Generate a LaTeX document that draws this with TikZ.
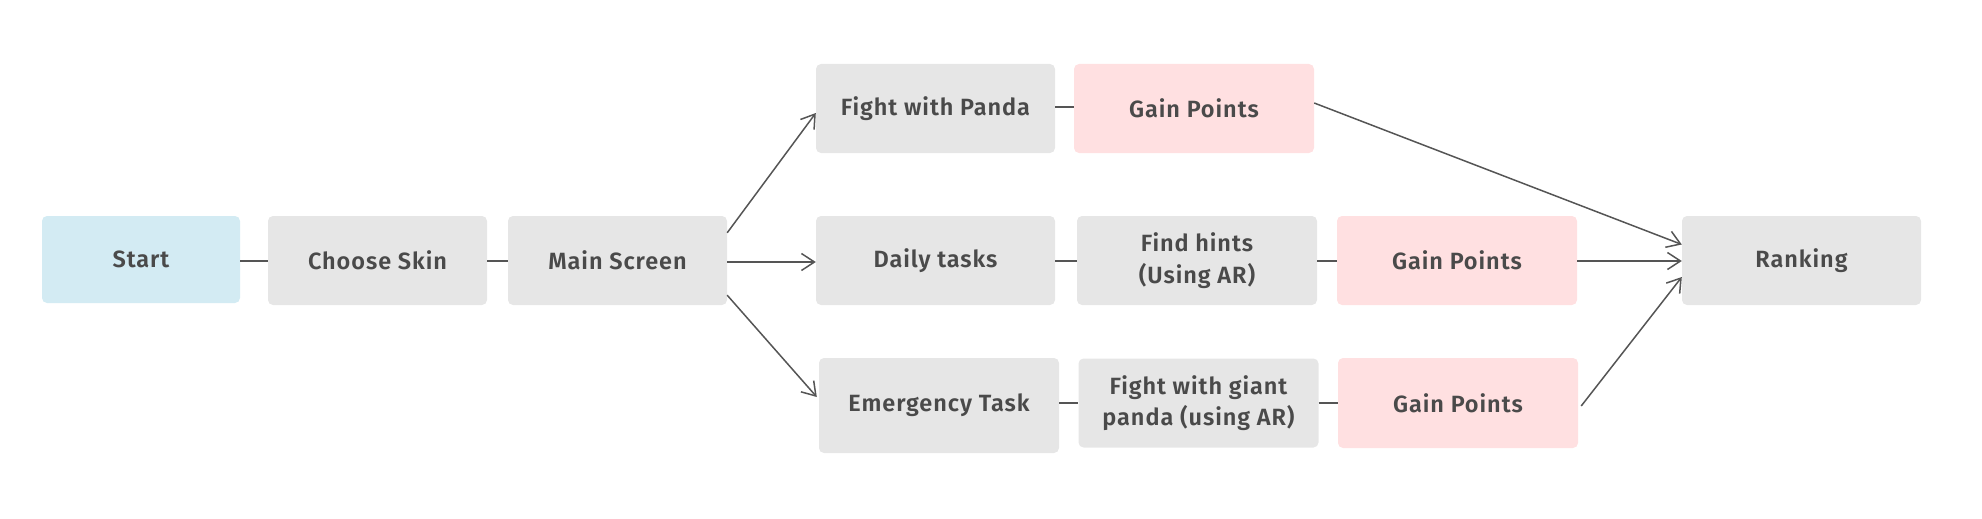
\documentclass[tikz,border=0pt]{standalone}
\usepackage{fontspec}
\setmainfont{Fira Sans}[UprightFont=* SemiBold, LetterSpace=4]
\usetikzlibrary{arrows.meta,calc}
\definecolor{boxgray}{HTML}{E6E6E6}
\definecolor{boxblue}{HTML}{D3EBF3}
\definecolor{boxpink}{HTML}{FFE0E1}
\definecolor{txt}{HTML}{4A4A4A}
\definecolor{ln}{HTML}{555555}
\begin{document}
\begin{tikzpicture}[x=1pt,y=-1pt,
  box/.style={draw=none, rounded corners=5pt, inner sep=0pt, align=center,
    text=txt, font=\fontsize{23.5}{31.5}\selectfont,
    minimum width=#1, minimum height=89pt},
  box/.default=240pt,
  gbox/.style={box=#1, fill=boxgray}, gbox/.default=240pt,
  pbox/.style={box=240pt, fill=boxpink},
  conn/.style={draw=ln, line width=1.5pt},
  arr/.style={conn, -{Straight Barb[length=13pt,width=17pt,line width=1.5pt]}}]
\useasboundingbox (0,0) rectangle (1982,519);
% row 2
\node[box=198pt, fill=boxblue, minimum height=87pt] (start) at (141,259.5) {Start};
\node[gbox=219pt] (skin) at (377.5,260.5) {Choose Skin};
\node[gbox=219pt] (main) at (617.5,260.5) {Main Screen};
\node[gbox=239pt] (daily) at (935.5,260.5) {Daily tasks};
\node[gbox] (hints) at (1197,260.5) {Find hints\\(Using AR)};
\node[pbox] (gain2) at (1457,260.5) {Gain Points};
\node[gbox=239pt] (rank) at (1801.5,260.5) {Ranking};
% row 1
\node[gbox=239pt] (fight) at (935.5,108.5) {Fight with Panda};
\node[pbox] (gain1) at (1194,108.5) {Gain Points};
% row 3
\node[gbox, minimum height=95pt] (emer) at (939,405.5) {Emergency Task};
\node[gbox] (giant) at (1198.5,403) {Fight with giant\\panda (using AR)};
\node[pbox, minimum height=90pt] (gain3) at (1458,403) {Gain Points};
% plain connectors
\draw[conn] (start.east |- 0,261) -- (skin.west |- 0,261);
\draw[conn] (skin.east |- 0,261) -- (main.west |- 0,261);
\draw[conn] (daily.east |- 0,261) -- (hints.west |- 0,261);
\draw[conn] (hints.east |- 0,261) -- (gain2.west |- 0,261);
\draw[conn] (fight.east |- 0,107) -- (gain1.west |- 0,107);
\draw[conn] (emer.east |- 0,403) -- (giant.west |- 0,403);
\draw[conn] (giant.east |- 0,403) -- (gain3.west |- 0,403);
% arrows from main screen
\draw[arr] ([yshift=-17pt]main.north east) -- ([yshift=-4.5pt]fight.west);
\draw[arr] (main.east |- 0,262) -- (daily.west |- 0,262);
\draw[arr] ([yshift=10pt]main.south east) -- ([xshift=-2pt,yshift=8.5pt]emer.west);
% arrows to ranking
\draw[arr] ([yshift=5.5pt]gain1.east) -- ([yshift=16pt]rank.west);
\draw[arr] (gain2.east |- 0,261) -- (rank.west |- 0,261);
\draw[arr] ([xshift=3pt,yshift=-3pt]gain3.east) -- ([yshift=-16.5pt]rank.west);
\end{tikzpicture}
\end{document}
